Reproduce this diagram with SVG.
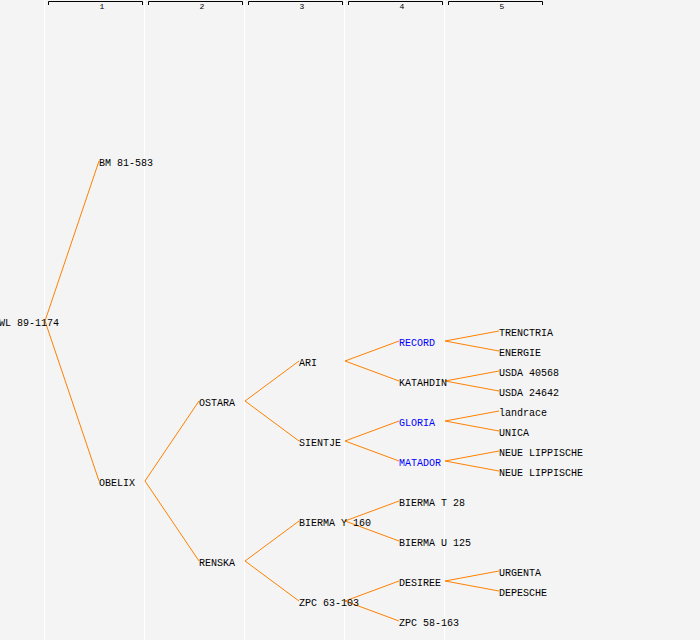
<svg xmlns="http://www.w3.org/2000/svg" width="700" height="640" viewBox="0 0 700 640">
<style>
.bg{fill:#f4f4f4}
.grid{stroke:#ffffff;stroke-width:1}
.hdr{stroke:#000;stroke-width:1;fill:none}
.hn{font-family:"Liberation Mono","DejaVu Sans Mono",monospace;font-size:8px;fill:#000;text-anchor:middle}
.t{font-family:"Liberation Mono","DejaVu Sans Mono",monospace;font-size:10px;fill:#000}
.b{fill:#0000ff}
.c{stroke:#ff8000;stroke-width:1;fill:none}
</style>
<rect class="bg" x="0" y="0" width="700" height="640"/>
<g id="grid">
<line class="grid" x1="44.5" y1="0" x2="44.5" y2="640"/>
<line class="grid" x1="144.5" y1="0" x2="144.5" y2="640"/>
<line class="grid" x1="244.5" y1="0" x2="244.5" y2="640"/>
<line class="grid" x1="344.5" y1="0" x2="344.5" y2="640"/>
<line class="grid" x1="444.5" y1="0" x2="444.5" y2="640"/>
</g>
<g id="header">
<path class="hdr" d="M48.5,5 V1.5 H142.5 V5"/><text class="hn" x="102" y="9">1</text>
<path class="hdr" d="M148.5,5 V1.5 H242.5 V5"/><text class="hn" x="202" y="9">2</text>
<path class="hdr" d="M248.5,5 V1.5 H342.5 V5"/><text class="hn" x="302" y="9">3</text>
<path class="hdr" d="M348.5,5 V1.5 H442.5 V5"/><text class="hn" x="402" y="9">4</text>
<path class="hdr" d="M448.5,5 V1.5 H542.5 V5"/><text class="hn" x="502" y="9">5</text>
</g>
<g id="connectors">
<path class="c" d="M45,321 L99,161 M45,321 L99,481"/>
<path class="c" d="M145,481 L199,401 M145,481 L199,561"/>
<path class="c" d="M245,401 L299,361 M245,401 L299,441 M245,561 L299,521 M245,561 L299,601"/>
<path class="c" d="M345,361 L399,341 M345,361 L399,381 M345,441 L399,421 M345,441 L399,461 M345,521 L399,501 M345,521 L399,541 M345,601 L399,581 M345,601 L399,621"/>
<path class="c" d="M445,341 L499,331 M445,341 L499,351 M445,381 L499,371 M445,381 L499,391 M445,421 L499,411 M445,421 L499,431 M445,461 L499,451 M445,461 L499,471 M445,581 L499,571 M445,581 L499,591"/>
</g>
<g id="n-root"><text class="t" x="-1" y="326">WL 89-1174</text></g>
<g id="n-bm"><text class="t" x="99" y="166">BM 81-583</text></g>
<g id="n-obelix"><text class="t" x="99" y="486">OBELIX</text></g>
<g id="n-ostara"><text class="t" x="199" y="406">OSTARA</text></g>
<g id="n-renska"><text class="t" x="199" y="566">RENSKA</text></g>
<g id="n-ari"><text class="t" x="299" y="366">ARI</text></g>
<g id="n-sientje"><text class="t" x="299" y="446">SIENTJE</text></g>
<g id="n-biermay"><text class="t" x="299" y="526">BIERMA Y 160</text></g>
<g id="n-zpc63"><text class="t" x="299" y="606">ZPC 63-103</text></g>
<g id="n-record"><text class="t b" x="399" y="346">RECORD</text></g>
<g id="n-katahdin"><text class="t" x="399" y="386">KATAHDIN</text></g>
<g id="n-gloria"><text class="t b" x="399" y="426">GLORIA</text></g>
<g id="n-matador"><text class="t b" x="399" y="466">MATADOR</text></g>
<g id="n-biermat"><text class="t" x="399" y="506">BIERMA T 28</text></g>
<g id="n-biermau"><text class="t" x="399" y="546">BIERMA U 125</text></g>
<g id="n-desiree"><text class="t" x="399" y="586">DESIREE</text></g>
<g id="n-zpc58"><text class="t" x="399" y="626">ZPC 58-163</text></g>
<g id="n-trenctria"><text class="t" x="499" y="336">TRENCTRIA</text></g>
<g id="n-energie"><text class="t" x="499" y="356">ENERGIE</text></g>
<g id="n-usda1"><text class="t" x="499" y="376">USDA 40568</text></g>
<g id="n-usda2"><text class="t" x="499" y="396">USDA 24642</text></g>
<g id="n-landrace"><text class="t" x="499" y="416">landrace</text></g>
<g id="n-unica"><text class="t" x="499" y="436">UNICA</text></g>
<g id="n-neue1"><text class="t" x="499" y="456">NEUE LIPPISCHE</text></g>
<g id="n-neue2"><text class="t" x="499" y="476">NEUE LIPPISCHE</text></g>
<g id="n-urgenta"><text class="t" x="499" y="576">URGENTA</text></g>
<g id="n-depesche"><text class="t" x="499" y="596">DEPESCHE</text></g>
</svg>
